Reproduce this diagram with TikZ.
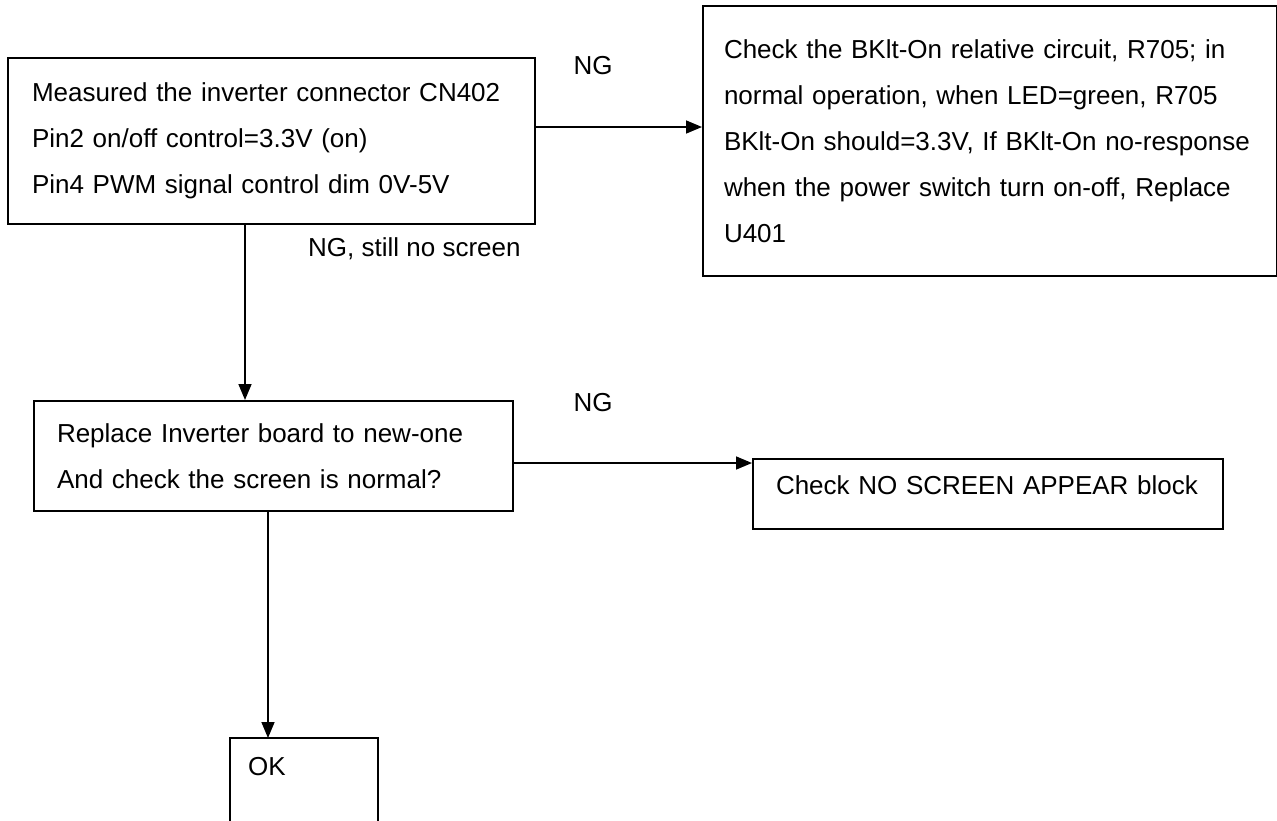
\documentclass[tikz,border=0pt]{standalone}
\usepackage{fontspec}
\setmainfont{Liberation Sans}
\usetikzlibrary{arrows.meta,calc}
\begin{document}
\begin{tikzpicture}[x=1pt,y=-1pt,
  every node/.style={font=\fontsize{26}{46}\selectfont},
  box/.style={draw,line width=2pt,anchor=north west,align=left,inner ysep=0pt},
  arr/.style={line width=1.6pt,-{Triangle[length=16pt,width=13pt]}},
  lbl/.style={inner sep=0pt}]
\useasboundingbox (0,0) rectangle (1277,820);
\node[box,minimum width=527pt,minimum height=166pt,inner xsep=24pt,text width=479pt] (A) at (7,57)
  {Measured the inverter connector CN402\\Pin2 on/off control=3.3V (on)\\Pin4 PWM signal control dim 0V-5V};
\node[box,minimum width=574pt,minimum height=270pt,inner xsep=21pt,text width=532pt] (B) at (702,5)
  {Check the BKlt-On relative circuit, R705; in\\normal operation, when LED=green, R705\\BKlt-On should=3.3V, If BKlt-On no-response\\when the power switch turn on-off, Replace\\U401};
\node[box,minimum width=479pt,minimum height=110pt,inner xsep=23pt,text width=433pt] (C) at (33,400)
  {Replace Inverter board to new-one\\And check the screen is normal?};
\node[box,minimum width=470pt,minimum height=70pt,inner xsep=23pt,text width=424pt,text height=18pt,text depth=18pt] (D) at (752,458)
  {Check NO SCREEN APPEAR block};
\node[anchor=north west,minimum width=148pt,minimum height=90pt,inner sep=0pt] (E) at (230,738) {};
\draw[line width=2pt] (E.south west) -- (E.north west) -- (E.north east) -- (E.south east);
\node[lbl] (ok) at (267,767) {OK};
\draw[arr] (A.east |- 0,127) coordinate (ab) -- (ab -| B.west);
\node[lbl] (ng1) at (593,66) {NG};
\draw[arr] ($(A.south west)+(238,0)$) coordinate (ac) -- (ac |- C.north);
\node[lbl,anchor=west] (ng2) at (308,249) {NG, still no screen};
\draw[arr] (C.east |- 0,463) coordinate (cd) -- (cd -| D.west);
\node[lbl] (ng3) at (593,403) {NG};
\draw[arr] ($(C.south west)+(235,0)$) coordinate (ce) -- (ce |- E.north);
\end{tikzpicture}
\end{document}
